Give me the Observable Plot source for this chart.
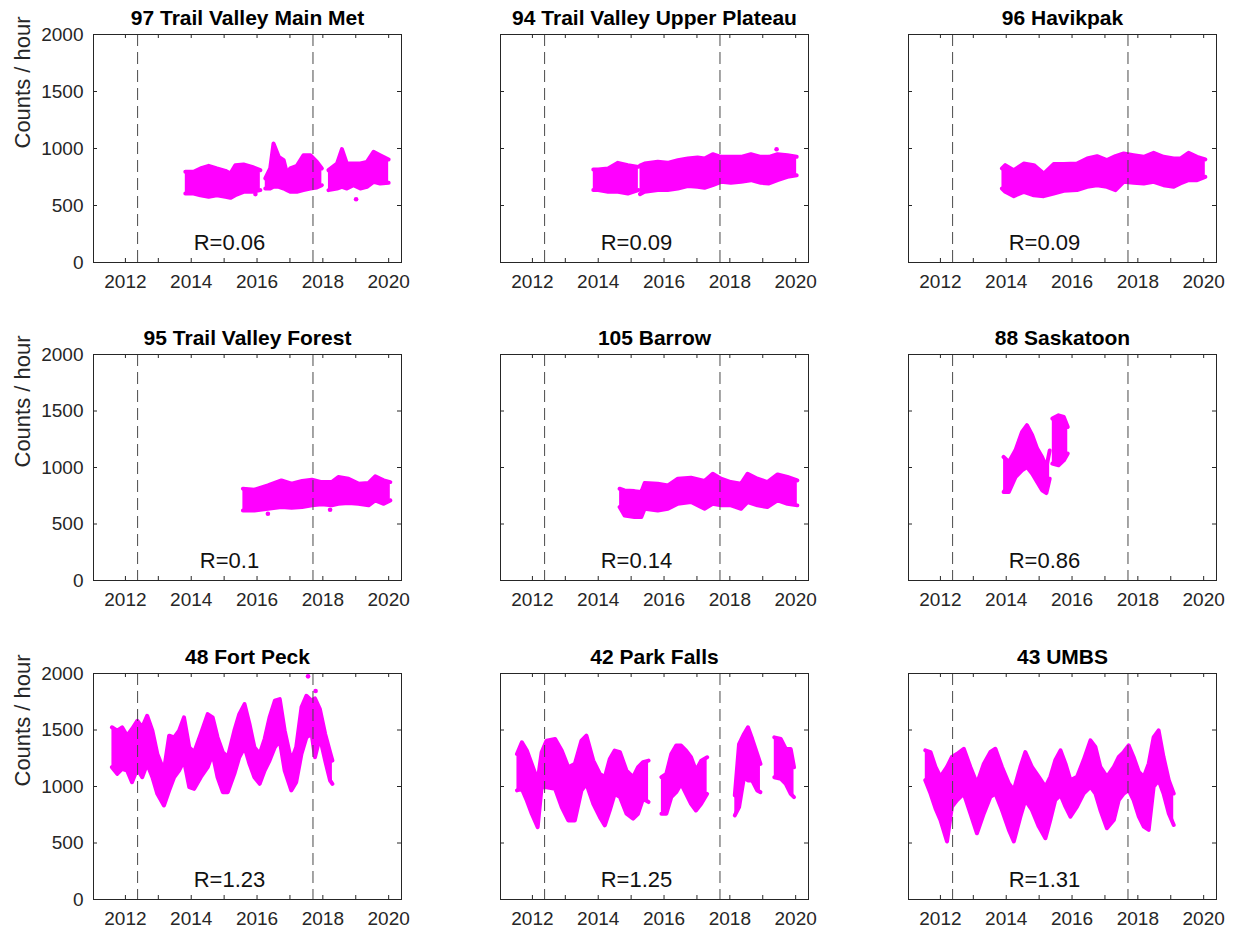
<!DOCTYPE html>
<html>
<head>
<meta charset="utf-8">
<script src="https://cdn.jsdelivr.net/npm/d3@7"></script>
<script src="https://cdn.jsdelivr.net/npm/@observablehq/plot@0.6"></script>
<style>
  body { margin: 0; background: #fff; }
  #fig { position: relative; width: 1233px; height: 934px; font-family: "Liberation Sans", Arial, sans-serif; }
  .panel { position: absolute; }
</style>
</head>
<body>
<div id="fig"></div>
<script>
// Station titles and correlation values, one per panel (row by row)
const stationTitles = [
  "97 Trail Valley Main Met", "94 Trail Valley Upper Plateau", "96 Havikpak",
  "95 Trail Valley Forest", "105 Barrow", "88 Saskatoon",
  "48 Fort Peck", "42 Park Falls", "43 UMBS"
];
const rValues = [0.06, 0.09, 0.09, 0.1, 0.14, 0.86, 1.23, 1.25, 1.31];

// Axis ticks
const yearTicks = [2012, 2013, 2014, 2015, 2016, 2017, 2018, 2019, 2020];
const yearLabels = [2012, 2014, 2016, 2018, 2020];
const countTicks = [0, 500, 1000, 1500, 2000];
const yearDomain = [2011.03, 2020.39];

// Reference dates marked with dashed lines
const markerYears = [2012.37, 2017.70];

// Hourly count envelopes: each station is a list of continuous segments,
// each segment a list of [decimal year, lowest count, highest count]
const mainMet = [
  [[2013.82,605,795],[2014.07,605,795],[2014.28,590,825],[2014.53,576,848],[2014.78,590,825],[2015.04,576,804],[2015.19,567,780],[2015.34,590,854],[2015.59,620,860],[2015.85,620,839],[2016.10,635,810]],
  [[2016.25,649,737],[2016.40,649,825],[2016.50,664,1044],[2016.66,664,927],[2016.81,649,898],[2016.91,635,780],[2017.01,620,825],[2017.21,620,848],[2017.41,635,941],[2017.62,649,941],[2017.82,658,883],[2017.97,678,825]],
  [[2018.17,635,810],[2018.43,649,868],[2018.58,664,995],[2018.73,649,868],[2018.93,678,868],[2019.14,649,868],[2019.34,664,883],[2019.54,708,971],[2019.74,693,941],[2020.00,699,904]]
];
const mainMetOutliers = [[2015.95,600],[2019.01,555]];

const upperPlateau = [
  [[2013.85,635,816],[2014.00,635,816],[2014.30,620,825],[2014.60,620,874],[2014.90,605,854],[2015.22,635,839]],
  [[2015.27,600,850],[2015.41,620,868],[2015.81,635,883],[2016.11,635,874],[2016.42,649,898],[2016.72,670,912],[2017.02,664,921],[2017.23,655,912],[2017.48,678,950],[2017.73,708,927],[2018.03,699,927],[2018.34,708,927],[2018.64,722,950],[2018.94,699,927],[2019.19,693,927],[2019.45,722,950],[2019.75,751,941],[2020.03,766,927]]
];
const upperPlateauOutliers = [[2019.42,994]];

const havikpak = [
  [[2013.87,649,825],[2013.97,620,854],[2014.23,582,810],[2014.53,620,868],[2014.84,590,854],[2015.14,582,780],[2015.44,605,863],[2015.75,629,863],[2016.15,635,868],[2016.46,664,912],[2016.76,678,933],[2017.06,664,898],[2017.32,635,933],[2017.57,708,956],[2017.87,699,941],[2018.18,693,927],[2018.48,708,962],[2018.78,678,927],[2019.09,664,912],[2019.29,693,912],[2019.54,722,962],[2019.80,722,927],[2020.05,751,904]]
];
const havikpakOutliers = [];

const forest = [
  [[2015.57,620,812],[2015.92,620,804],[2016.33,635,842],[2016.74,650,886],[2017.05,644,857],[2017.37,650,880],[2017.67,665,892],[2017.96,674,871],[2018.27,665,871],[2018.47,679,916],[2018.78,685,901],[2019.08,679,857],[2019.39,665,863],[2019.59,709,922],[2019.85,679,886],[2020.05,709,871]]
];
const forestOutliers = [[2016.33,591],[2018.22,626]];

const barrow = [
  [[2014.65,650,812],[2014.80,576,797],[2015.10,561,791],[2015.31,561,783],[2015.41,635,862],[2015.81,620,857],[2016.12,635,842],[2016.42,679,901],[2016.82,694,909],[2017.23,635,880],[2017.48,679,945],[2017.73,665,901],[2018.03,665,871],[2018.34,635,857],[2018.54,694,945],[2018.84,665,901],[2019.14,650,871],[2019.45,709,939],[2019.75,679,916],[2020.05,665,886]]
];
const barrowOutliers = [];

const saskatoon = [
  [[2013.92,783,1093],[2014.08,783,1049],[2014.28,915,1152],[2014.48,975,1315],[2014.63,1004,1374],[2014.79,945,1285],[2014.94,871,1167],[2015.09,798,1093],[2015.22,774,1004],[2015.32,900,1150]],
  [[2015.40,1034,1433],[2015.59,1019,1462],[2015.75,1063,1447],[2015.87,1123,1358]]
];
const saskatoonOutliers = [[2013.95,790]];

const fortPeck = [
  [[2011.59,1171,1524],[2011.75,1112,1494],[2011.90,1156,1524],[2012.05,1141,1450],[2012.20,1038,1509],[2012.36,1156,1582],[2012.51,1082,1524],[2012.66,1200,1626],[2012.82,1082,1494],[2012.97,935,1288],[2013.17,832,1141],[2013.33,965,1450],[2013.48,1082,1435],[2013.63,1141,1494],[2013.78,1229,1612],[2013.94,994,1347],[2014.09,979,1303],[2014.29,1082,1465],[2014.50,1171,1641],[2014.65,1288,1612],[2014.80,1082,1435],[2014.96,950,1303],[2015.11,950,1259],[2015.31,1112,1494],[2015.46,1259,1641],[2015.62,1347,1729],[2015.77,1200,1553],[2015.92,1082,1347],[2016.08,1024,1288],[2016.23,1141,1420],[2016.38,1229,1612],[2016.54,1347,1759],[2016.69,1406,1774],[2016.84,1141,1494],[2017.04,965,1229],[2017.19,1038,1347],[2017.35,1288,1700],[2017.50,1435,1803],[2017.66,1465,1759],[2017.76,1259,1780],[2017.91,1435,1685],[2018.07,1229,1465],[2018.22,1053,1303],[2018.29,1024,1229]]
];
const fortPeckOutliers = [[2017.55,1975],[2017.78,1845]];

const parkFalls = [
  [[2011.53,965,1288],[2011.68,979,1391],[2011.83,876,1318],[2011.98,759,1200],[2012.16,641,1053],[2012.28,994,1303],[2012.43,994,1406],[2012.69,979,1420],[2012.89,818,1318],[2013.09,700,1171],[2013.29,700,1200],[2013.49,965,1406],[2013.64,1024,1450],[2013.85,847,1229],[2014.05,729,1112],[2014.20,656,1082],[2014.35,788,1244],[2014.50,935,1318],[2014.66,906,1303],[2014.86,759,1141],[2015.06,715,1082],[2015.21,759,1171],[2015.36,891,1215],[2015.53,862,1229]],
  [[2015.92,759,1082],[2016.07,759,1112],[2016.22,906,1288],[2016.37,950,1362],[2016.52,1024,1362],[2016.67,935,1318],[2016.82,847,1259],[2016.97,788,1141],[2017.13,847,1229],[2017.31,935,1259]],
  [[2018.15,744,921],[2018.28,818,1376],[2018.43,1082,1465],[2018.55,1053,1524],[2018.68,1053,1420],[2018.83,965,1288],[2018.93,950,1200]],
  [[2019.35,1082,1435],[2019.55,1068,1420],[2019.70,1024,1332],[2019.85,935,1332],[2019.95,906,1171]]
];
const parkFallsOutliers = [];

const umbs = [
  [[2011.54,1056,1320],[2011.70,938,1305],[2011.85,806,1173],[2012.00,704,1085],[2012.20,513,1173],[2012.35,821,1261],[2012.51,880,1290],[2012.71,938,1334],[2012.91,762,1173],[2013.11,586,1026],[2013.32,762,1202],[2013.52,909,1305],[2013.67,938,1334],[2013.87,792,1173],[2014.08,616,1026],[2014.23,513,968],[2014.43,733,1173],[2014.58,880,1305],[2014.78,792,1173],[2014.99,645,1085],[2015.19,543,997],[2015.34,704,1085],[2015.49,880,1232],[2015.65,924,1320],[2015.80,821,1202],[2015.95,733,1056],[2016.15,821,1085],[2016.35,938,1232],[2016.56,997,1408],[2016.71,938,1349],[2016.86,792,1173],[2017.06,630,1085],[2017.27,704,1173],[2017.42,880,1261],[2017.57,938,1305],[2017.72,968,1364],[2017.87,880,1261],[2018.03,733,1129],[2018.18,645,1085],[2018.33,616,1202],[2018.48,997,1437],[2018.63,1056,1496],[2018.78,938,1261],[2018.94,762,1056],[2019.09,660,938]]
];
const umbsOutliers = [];

const stationSegments = [mainMet, upperPlateau, havikpak, forest, barrow, saskatoon, fortPeck, parkFalls, umbs];
const stationOutliers = [mainMetOutliers, upperPlateauOutliers, havikpakOutliers, forestOutliers, barrowOutliers, saskatoonOutliers, fortPeckOutliers, parkFallsOutliers, umbsOutliers];

const MAGENTA = "#ff00ff";
const INK = "#262626";
const colLeft = [0, 407, 815];
const rowTop = [0, 320, 639];
const panelW = 411, mL = 93, mR = 10, mT = 34, mB = 48;

const fig = document.getElementById("fig");

stationTitles.forEach((title, i) => {
  const col = i % 3, row = Math.floor(i / 3);
  const boxH = row === 0 ? 228 : 226;
  const boxW = panelW - mL - mR;
  const rows = stationSegments[i].flatMap((seg, k) => seg.map(([t, lo, hi]) => ({t, lo, hi, k})));
  const outliers = stationOutliers[i];

  const marks = [
    // data envelope, drawn as dense magenta bands
    Plot.areaY(rows, {x: "t", y1: "lo", y2: "hi", z: "k", fill: MAGENTA}),
    Plot.lineY(rows, {x: "t", y: "hi", z: "k", stroke: MAGENTA, strokeWidth: 4, strokeLinejoin: "round", strokeLinecap: "round"}),
    Plot.lineY(rows, {x: "t", y: "lo", z: "k", stroke: MAGENTA, strokeWidth: 4, strokeLinejoin: "round", strokeLinecap: "round"}),
    Plot.dot(outliers, {x: d => d[0], y: d => d[1], r: 2.3, fill: MAGENTA}),
    // reference dates
    Plot.ruleX(markerYears, {x: d => d, stroke: "#4a4a4a", strokeWidth: 1, strokeDasharray: "12,6"}),
    // inward ticks on all four sides
    Plot.tickX(yearTicks, {x: d => d, insetTop: boxH - 4, stroke: INK}),
    Plot.tickX(yearTicks, {x: d => d, insetBottom: boxH - 4, stroke: INK}),
    Plot.tickY(countTicks, {y: d => d, insetRight: boxW - 4, stroke: INK}),
    Plot.tickY(countTicks, {y: d => d, insetLeft: boxW - 4, stroke: INK}),
    Plot.frame({stroke: INK, strokeWidth: 1}),
    Plot.axisX(yearLabels, {tickSize: 0, tickPadding: 12, fontSize: 19, color: INK, tickFormat: d => String(d), label: null}),
    // title and correlation label
    Plot.text([title], {frameAnchor: "top", dy: -16, lineAnchor: "middle", fontSize: 21, fontWeight: "bold", fill: "#000"}),
    Plot.text([`R=${rValues[i]}`], {frameAnchor: "bottom", dx: -18, dy: -20, lineAnchor: "middle", fontSize: 22, fill: "#111"})
  ];
  if (col === 0) {
    marks.push(
      Plot.axisY(countTicks, {tickSize: 0, tickPadding: 10, fontSize: 19, color: INK, tickFormat: d => String(d), label: null}),
      Plot.text(["Counts / hour"], {frameAnchor: "left", rotate: -90, dx: -71, lineAnchor: "middle", fontSize: 22, fill: INK})
    );
  }

  const chart = Plot.plot({
    width: panelW,
    height: mT + boxH + mB,
    marginLeft: mL, marginRight: mR, marginTop: mT, marginBottom: mB,
    x: {domain: yearDomain, axis: null},
    y: {domain: [0, 2000], axis: null},
    style: {background: "transparent", fontFamily: "'Liberation Sans', Arial, sans-serif", overflow: "visible"},
    marks
  });
  const holder = document.createElement("div");
  holder.className = "panel";
  holder.style.left = colLeft[col] + "px";
  holder.style.top = rowTop[row] + "px";
  holder.appendChild(chart);
  fig.appendChild(holder);
});
</script>
</body>
</html>
